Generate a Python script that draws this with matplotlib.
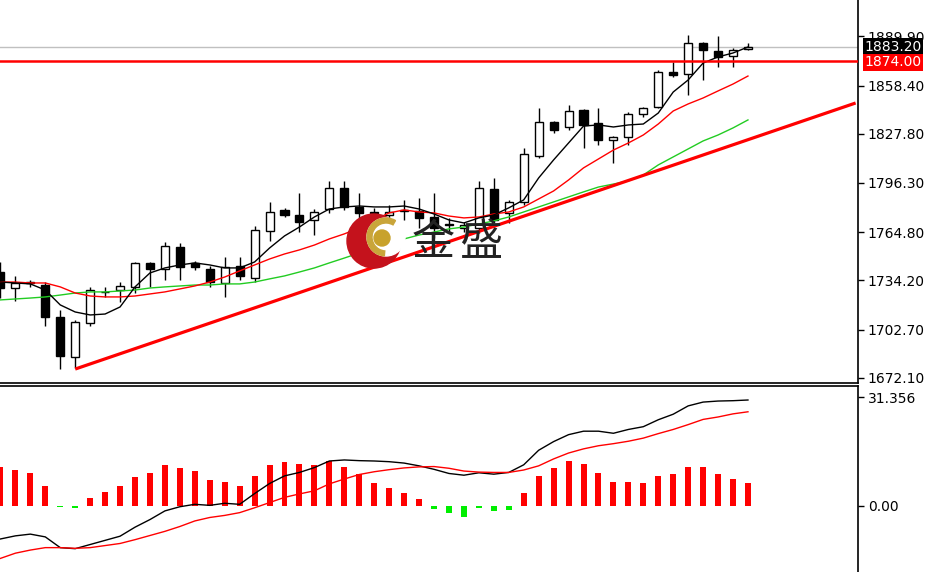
import matplotlib
matplotlib.use("Agg")
import matplotlib.pyplot as plt
from matplotlib.patches import Circle, Wedge
import numpy as np

# donnees (bougies, moyennes mobiles, MACD)
opens = [1739.5, 1729.3, 1733.1, 1731.2, 1710.8, 1685.3, 1707.0, 1726.6, 1728.0, 1730.0,
         1745.3, 1741.4, 1755.5, 1745.3, 1741.4, 1732.5, 1743.4, 1735.7, 1765.7, 1779.1,
         1775.9, 1772.7, 1779.7, 1793.1, 1781.0, 1777.8, 1775.9, 1779.1, 1778.4, 1774.6,
         1770.1, 1767.6, 1767.6, 1792.5, 1777.2, 1784.2, 1813.5, 1835.2, 1832.0, 1842.9,
         1834.6, 1823.7, 1825.6, 1840.3, 1844.8, 1867.1, 1865.8, 1885.6, 1880.5, 1877.3, 1881.8]
highs = [1745.9, 1737.0, 1734.4, 1733.1, 1715.3, 1708.9, 1730.0, 1730.0, 1733.1, 1745.9,
         1745.9, 1758.7, 1758.0, 1746.5, 1743.4, 1749.1, 1749.1, 1768.9, 1784.2, 1780.4,
         1789.9, 1779.7, 1797.6, 1797.6, 1789.9, 1780.4, 1782.3, 1785.5, 1786.8, 1789.9,
         1774.0, 1771.4, 1797.6, 1799.5, 1785.5, 1818.6, 1844.1, 1835.8, 1846.0, 1843.5,
         1844.1, 1826.3, 1841.6, 1844.8, 1868.4, 1873.5, 1890.7, 1886.2, 1890.1, 1882.4, 1885.6]
lows = [1722.9, 1721.0, 1730.0, 1705.1, 1677.6, 1678.3, 1705.1, 1723.6, 1720.4, 1726.1,
        1730.0, 1734.4, 1734.4, 1740.8, 1730.0, 1723.6, 1734.4, 1733.1, 1759.3, 1774.6,
        1765.0, 1763.1, 1777.2, 1779.1, 1769.5, 1774.6, 1772.7, 1772.7, 1767.6, 1761.2,
        1765.0, 1765.0, 1764.4, 1770.8, 1770.8, 1782.3, 1812.2, 1828.2, 1830.1, 1818.6,
        1820.5, 1809.1, 1820.5, 1838.4, 1844.1, 1863.9, 1852.4, 1862.0, 1870.3, 1870.3, 1881.1]
closes = [1729.3, 1732.5, 1732.5, 1710.8, 1685.9, 1707.6, 1728.0, 1726.9, 1730.6, 1745.3,
          1741.4, 1756.1, 1742.7, 1742.7, 1733.1, 1742.7, 1737.0, 1766.3, 1777.8, 1775.9,
          1771.4, 1777.8, 1793.1, 1781.0, 1777.2, 1777.2, 1777.8, 1778.4, 1774.0, 1767.6,
          1769.5, 1769.5, 1793.1, 1772.7, 1784.2, 1814.8, 1835.2, 1830.1, 1842.2, 1833.3,
          1823.7, 1825.6, 1840.3, 1844.1, 1867.1, 1865.2, 1885.6, 1881.1, 1876.7, 1881.1, 1883.2]

ma_fast = [1733.1, 1732.5, 1731.9, 1728.0, 1718.5, 1714.0, 1712.1, 1712.7, 1717.2, 1730.0,
           1738.9, 1742.1, 1744.0, 1745.3, 1744.0, 1742.1, 1742.1, 1745.9, 1754.8, 1762.5,
           1768.2, 1774.6, 1779.7, 1781.0, 1781.6, 1781.0, 1781.0, 1781.6, 1779.7, 1776.5,
           1772.7, 1770.8, 1774.0, 1775.9, 1780.4, 1785.5, 1799.5, 1811.0, 1821.8, 1832.6,
           1833.3, 1832.0, 1833.3, 1833.9, 1840.9, 1854.3, 1862.0, 1872.8, 1876.7, 1879.2, 1883.0]
ma_mid = [1733.1, 1733.1, 1732.5, 1732.5, 1730.0, 1726.1, 1724.2, 1723.6, 1723.6, 1724.2,
          1725.5, 1726.8, 1728.7, 1730.6, 1733.1, 1736.3, 1740.2, 1744.0, 1747.8, 1751.0,
          1753.6, 1756.7, 1760.6, 1763.8, 1767.6, 1772.7, 1777.2, 1779.1, 1777.8, 1777.2,
          1775.2, 1774.0, 1774.6, 1776.5, 1777.8, 1781.0, 1786.1, 1791.2, 1798.2, 1805.9,
          1811.6, 1817.3, 1821.8, 1826.9, 1833.9, 1842.2, 1846.7, 1850.5, 1855.0, 1859.4, 1864.5]
ma_slow = [1721.7, 1722.3, 1722.9, 1723.6, 1724.8, 1726.1, 1726.8, 1726.8, 1727.4, 1728.0,
           1729.3, 1730.0, 1730.6, 1731.2, 1731.2, 1731.9, 1731.9, 1733.1, 1735.1, 1737.0,
           1739.5, 1742.1, 1745.3, 1748.4, 1751.6, 1754.8, 1758.0, 1760.6, 1763.1, 1765.0,
           1767.0, 1768.2, 1770.1, 1772.1, 1774.6, 1777.8, 1781.0, 1784.2, 1787.4, 1790.6,
           1793.7, 1795.6, 1797.6, 1801.4, 1807.8, 1812.9, 1818.0, 1823.1, 1826.9, 1831.4, 1836.5]

hist = [11.2, 10.3, 9.5, 5.7, -0.3, -0.6, 2.1, 3.9, 5.7, 8.2,
        9.5, 11.7, 10.8, 9.9, 7.3, 6.9, 5.7, 8.7, 11.7, 12.5,
        12.1, 11.7, 12.9, 11.3, 9.1, 6.5, 5.2, 3.6, 1.8, -1.0,
        -2.2, -3.2, -0.6, -1.5, -1.2, 3.6, 8.7, 10.8, 12.9, 12.0,
        9.5, 6.9, 6.9, 6.5, 8.7, 9.1, 11.3, 11.3, 9.1, 7.7, 6.5]
macd = [-9.6, -8.7, -8.2, -9.0, -12.1, -12.4, -11.2, -10.0, -8.8, -6.2,
        -4.0, -1.5, -0.3, 0.4, 0.1, 0.7, 0.4, 3.5, 6.4, 8.6,
        9.6, 11.0, 12.9, 13.2, 13.0, 12.9, 12.7, 12.3, 11.5, 10.5,
        9.3, 8.8, 9.5, 9.1, 9.6, 11.8, 16.0, 18.5, 20.5, 21.5,
        21.5, 20.9, 22.0, 22.8, 24.8, 26.4, 28.8, 29.9, 30.2, 30.3, 30.5]
signal = [-15.2, -13.7, -12.8, -12.1, -12.1, -12.3, -12.1, -11.5, -10.9, -9.8,
          -8.6, -7.4, -6.0, -4.4, -3.4, -2.8, -2.0, -0.6, 0.9, 2.4,
          3.4, 4.3, 6.3, 7.7, 9.0, 9.8, 10.4, 10.9, 11.2, 11.3,
          10.8, 10.0, 9.7, 9.6, 9.6, 10.3, 11.5, 13.5, 15.2, 16.4,
          17.3, 17.9, 18.6, 19.5, 20.8, 22.0, 23.4, 24.9, 25.6, 26.5, 27.1]

trend_x = [5, 57.2]
trend_y = [1677.6, 1847.3]
level_bid = 1883.2
level_red = 1874.0
price_ticks = [1889.90, 1858.40, 1827.80, 1796.30, 1764.80, 1734.20, 1702.70, 1672.10]
macd_ticks = [0.0, 31.356]
macd_labels = ["0.00", "31.356"]

W, H = 928, 572
fig = plt.figure(figsize=(W / 100, H / 100), dpi=100)
fig.patch.set_facecolor("white")

ax1 = fig.add_axes([0, 1 - 383 / H, 858 / W, 383 / H])
ax2 = fig.add_axes([0, 0, 858 / W, 186 / H])

idx = np.arange(len(closes))
o = np.array(opens)
c = np.array(closes)

# bougies
ax1.vlines(idx, lows, highs, color="black", lw=1, zorder=2)
up = c >= o
bas = np.minimum(o, c)
haut = np.maximum(np.abs(c - o), 0.15)
ax1.bar(idx[up], haut[up], bottom=bas[up], width=0.54, color="white",
        edgecolor="black", linewidth=1, zorder=3)
ax1.bar(idx[~up], haut[~up], bottom=bas[~up], width=0.54, color="black",
        edgecolor="black", linewidth=1, zorder=3)

# moyennes mobiles
ax1.plot(idx, ma_slow, color="#22cc22", lw=1, zorder=4)
ax1.plot(idx, ma_mid, color="#ff0000", lw=1, zorder=4)
ax1.plot(idx, ma_fast, color="black", lw=1, zorder=4)

# lignes horizontales et tendance
ax1.axhline(level_bid, color="#c0c0c0", lw=1, zorder=1)
ax1.axhline(level_red, color="#ff0000", lw=1.8, zorder=5)
ax1.plot(trend_x, trend_y, color="#ff0000", lw=2.3, zorder=5, solid_capstyle="butt")

ax1.set_xlim(-0.03, 57.36)
ax1.set_ylim(1668.7, 1913.0)
ax1.set_yticks(price_ticks)
ax1.set_yticklabels([f"{p:.2f}" for p in price_ticks])

ax2.bar(idx, hist, width=0.4, color=["#ff0000" if v >= 0 else "#00ee00" for v in hist], zorder=2)
ax2.plot(idx, macd, color="black", lw=1, zorder=3)
ax2.plot(idx, signal, color="#ff0000", lw=1, zorder=3)
ax2.set_xlim(-0.03, 57.36)
ax2.set_ylim(-19.13, 34.54)
ax2.set_yticks(macd_ticks)
ax2.set_yticklabels(macd_labels)

for ax in (ax1, ax2):
    ax.set_facecolor("white")
    ax.yaxis.tick_right()
    ax.set_xticks([])
    ax.tick_params(axis="y", direction="out", length=4, width=1, pad=3,
                   labelsize=10, colors="black")
    for s in ("left", "top", "bottom"):
        ax.spines[s].set_visible(False)
    ax.spines["right"].set_linewidth(1.2)

ax1.spines["bottom"].set_visible(True)
ax1.spines["bottom"].set_linewidth(1.2)
ax2.spines["top"].set_visible(True)
ax2.spines["top"].set_linewidth(1.2)

# etiquettes de prix a droite (elles recouvrent en partie 1889.90, comme sur l'original)
ax1.annotate(f"{level_bid:.2f}", xy=(1, level_bid), xycoords=("axes fraction", "data"),
             xytext=(6, 0), textcoords="offset pixels", ha="left", va="center",
             color="white", fontsize=10, annotation_clip=False, zorder=6,
             bbox=dict(boxstyle="square,pad=0.1", fc="black", ec="none"))
ax1.annotate(f"{level_red:.2f}", xy=(1, level_red), xycoords=("axes fraction", "data"),
             xytext=(6, -1), textcoords="offset pixels", ha="left", va="center",
             color="white", fontsize=10, annotation_clip=False, zorder=6,
             bbox=dict(boxstyle="square,pad=0.1", fc="#ff0000", ec="none"))

# filigrane (logo + texte)
ax3 = fig.add_axes([0, 0, 1, 1])
ax3.set_xlim(0, W)
ax3.set_ylim(H, 0)
ax3.axis("off")
ax3.patch.set_alpha(0)
ax3.add_patch(Circle((374, 241), 27, color="#c4121c", zorder=1))
ax3.add_patch(Circle((386, 237), 19, color="white", zorder=2))
ax3.add_patch(Wedge((386, 237), 19, 95, 300, width=5, color="#c9a53a", zorder=3))
ax3.add_patch(Circle((382, 238), 8, color="#c8a22c", zorder=4))
ax3.text(433, 243, "金", fontsize=31, family=["Noto Sans CJK SC"], color="#222222",
         ha="center", va="center")
ax3.text(481, 243, "盛", fontsize=31, family=["Noto Sans CJK SC"], color="#222222",
         ha="center", va="center")

fig.savefig("out.png", dpi=100, facecolor="white")
